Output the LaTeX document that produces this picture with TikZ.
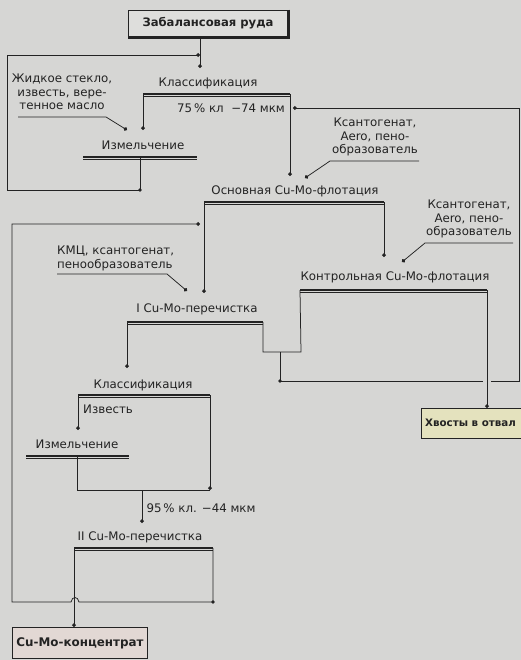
\documentclass[tikz,border=0pt]{standalone}
\usepackage{fontspec}
\setmainfont{DejaVu Sans}
\usetikzlibrary{arrows.meta}
\definecolor{bgc}{RGB}{214,214,212}
\definecolor{inkc}{RGB}{35,35,35}
\definecolor{orefill}{RGB}{222,222,220}
\definecolor{tailfill}{RGB}{228,226,190}
\definecolor{concfill}{RGB}{226,216,212}
\newcommand\procbar[4]{%
  \coordinate (#1-l) at (#2,#4);
  \coordinate (#1-r) at (#3,#4);
  \draw[inkc,line width=1.3pt] (#1-l) -- (#1-r);
  \draw[inkc,line width=0.5pt] ([yshift=-2.6pt]#1-l) -- ([yshift=-2.6pt]#1-r);}
\begin{document}
\begin{tikzpicture}[x=1pt,y=-1pt,
  ln/.style={line width=0.75pt, draw=inkc},
  flow/.style={ln, -{Circle[length=3.8pt]}},
  lbl/.style={font=\fontsize{11.8}{13.4}\selectfont, inner sep=0pt, text=inkc},
  rg/.style={lbl, align=center},
  endbox/.style={draw=inkc, line width=0.9pt, font=\bfseries\fontsize{11.6}{13}\selectfont, text=inkc, inner sep=0pt},
  dotc/.style={fill=inkc, circle, inner sep=0pt, minimum size=3.6pt}
]
\fill[bgc] (0,0) rectangle (521,660);
\useasboundingbox (0,0) rectangle (521,660);

% terminal boxes
\node[endbox, fill=orefill, minimum width=160pt, minimum height=27pt] (ore) at (208,23.5) {Забалансовая руда};
\draw[inkc, line width=2.4pt] (ore.north east) -- (ore.south east) -- (ore.south west);
\node[endbox, fill=tailfill, minimum width=104pt, minimum height=30pt, anchor=north west] (tail) at (421,408) {};
\node[lbl, font=\bfseries\fontsize{10.3}{12}\selectfont, anchor=west] (tailt) at (425,423) {Хвосты в отвал};
\node[endbox, fill=concfill, minimum width=135pt, minimum height=31pt, anchor=north west, font=\bfseries\fontsize{11.9}{13}\selectfont] (conc) at (12,627) {Cu-Mo-концентрат};

% process bars and their labels
\node[lbl] (cls1t) at (208,83) {Классификация};
\procbar{cls1}{143}{290}{94}
\node[lbl] (size1) at (231,108) {75\,\% кл\ \ −74 мкм};
\node[lbl] (grd1t) at (143,145) {Измельчение};
\procbar{grd1}{83}{197}{157}
\node[lbl] (rfl) at (295,191) {Основная Cu-Mo-флотация};
\procbar{rfl}{204}{384}{202}
\node[lbl] (scv) at (395,277) {Контрольная Cu-Mo-флотация};
\procbar{scv}{300}{487}{290}
\node[lbl] (cl1t) at (197,309) {I Cu-Mo-перечистка};
\procbar{cl1}{127}{263}{322}
\node[lbl] (cls2t) at (143,385) {Классификация};
\procbar{cls2}{78}{210}{395}
\node[lbl, anchor=west] (lime) at (83,409) {Известь};
\node[lbl] (grd2t) at (77,444) {Измельчение};
\procbar{grd2}{26}{129}{456}
\node[lbl] (size2) at (201,508) {95\,\% кл. −44 мкм};
\node[lbl] (cl2t) at (140,537) {II Cu-Mo-перечистка};
\procbar{cl2}{74}{213}{548}

% reagent labels
\node[rg] (rg1) at (62,92) {Жидкое стекло,\\известь, вере-\\тенное масло};
\coordinate (rg1a) at (18,117); \coordinate (rg1b) at (106,117);
\node[rg] (rg2) at (375,137) {Ксантогенат,\\Aero, пено-\\образователь};
\coordinate (rg2a) at (330,161); \coordinate (rg2b) at (419,161);
\node[rg] (rg3) at (469,219) {Ксантогенат,\\Aero, пено-\\образователь};
\coordinate (rg3a) at (425,243); \coordinate (rg3b) at (513,243);
\node[lbl, align=left, anchor=north west] (rg4) at (57,246) {КМЦ, ксантогенат,\\пенообразователь};
\coordinate (rg4a) at (57,274); \coordinate (rg4b) at (167,274);

% junction / end coordinates
\coordinate (j1) at (200,55);
\coordinate (c1end) at (200,68);
\coordinate (g1c) at (140,190);
\coordinate (lft1) at (7,190);
\coordinate (lft2) at (7,55);
\coordinate (g1in) at (143,130);
\coordinate (rg1end) at (127,130);
\coordinate (flin) at (290,176);
\coordinate (rg2end) at (305,178);
\coordinate (cl1in) at (204,293);
\coordinate (rg4end) at (187,291);
\coordinate (scin) at (384,257);
\coordinate (rg3end) at (402,262);
\coordinate (ub1) at (263,352);
\coordinate (ub2) at (301,352);
\coordinate (um) at (280,352);
\coordinate (mb) at (280,381);
\coordinate (mr1) at (519,381);
\coordinate (mr2) at (519,108);
\coordinate (mend) at (293,108);
\coordinate (cls2in) at (127,368);
\coordinate (g2in) at (78,430);
\coordinate (c2j) at (210,490);
\coordinate (g2c) at (77,490);
\coordinate (c2mid) at (142,490);
\coordinate (cl2in) at (142,523);
\coordinate (t2c) at (213,602);
\coordinate (t2l) at (12,602);
\coordinate (t2u) at (12,224);
\coordinate (t2end) at (200,224);

% connectors
\draw[flow] (ore.south -| j1) -- (c1end);
\draw[flow] (grd1-l -| g1c) -- (g1c) -- (lft1) -- (lft2) -- (j1);
\node[dotc] at (g1c) {};
\draw[flow] (cls1-l) -- (g1in);
\draw[flow] (rg1a) -- (rg1b) -- (rg1end);
\draw[flow] (cls1-r) -- (flin);
\draw[flow] (rg2b) -- (rg2a) -- (rg2end);
\draw[flow] (rfl-l) -- (cl1in);
\draw[flow] (rg4a) -- (rg4b) -- (rg4end);
\draw[flow] (rfl-r) -- (scin);
\draw[flow] (rg3b) -- (rg3a) -- (rg3end);
\draw[ln] (cl1-r) -- (ub1) -- (ub2) -- (scv-l);
\draw[flow] (um) -- (mb) -- (483,381) (491,381) -- (mr1) -- (mr2) -- (mend);
\node[dotc] at (mb) {};
\draw[flow] (scv-r) -- (tail.north -| scv-r);
\draw[flow] (cl1-l) -- (cls2in);
\draw[flow] (cls2-l) -- (g2in);
\draw[flow] (cls2-r) -- (c2j);
\draw[ln] (grd2-l -| g2c) -- (g2c) -- (c2j);
\draw[flow] (c2mid) -- (cl2in);
\draw[flow] (cl2-r) -- (t2c) -- (79,602) .. controls (78,596) and (72,596) .. (71,602) -- (t2l) -- (t2u) -- (t2end);
\node[dotc] at (t2c) {};
\draw[flow] (cl2-l) -- (conc.north -| cl2-l);
\end{tikzpicture}
\end{document}
